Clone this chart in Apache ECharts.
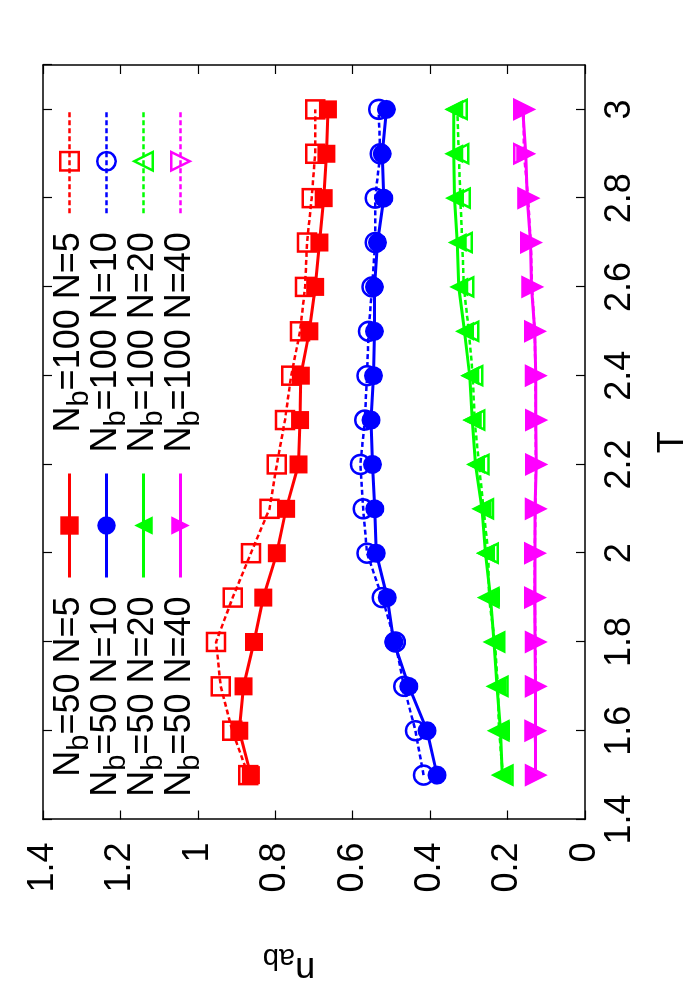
<!DOCTYPE html>
<html>
<head>
<meta charset="utf-8">
<script src="https://cdn.jsdelivr.net/npm/echarts@6/dist/echarts.min.js"></script>
<style>
  html, body { margin: 0; padding: 0; background: #fff; }
  #wrap { position: relative; width: 700px; height: 1000px; overflow: hidden; background: #fff; }
  #chart { position: absolute; left: 0; top: 0; width: 1000px; height: 700px;
           transform-origin: 0 0; transform: translateY(1000px) rotate(-90deg); }
</style>
</head>
<body>
<div id="wrap"><div id="chart"></div></div>
<script>
// ---- data ----
const T = [1.5, 1.6, 1.7, 1.8, 1.9, 2.0, 2.1, 2.2, 2.3, 2.4, 2.5, 2.6, 2.7, 2.8, 2.9, 3.0];

const nb50_N5   = [0.863, 0.893, 0.882, 0.855, 0.831, 0.796, 0.772, 0.740, 0.736, 0.734, 0.712, 0.697, 0.686, 0.675, 0.668, 0.664];
const nb50_N10  = [0.382, 0.408, 0.455, 0.494, 0.511, 0.539, 0.543, 0.549, 0.553, 0.546, 0.544, 0.544, 0.536, 0.520, 0.524, 0.513];
const nb50_N20  = [0.214, 0.218, 0.227, 0.235, 0.244, 0.257, 0.266, 0.283, 0.291, 0.298, 0.311, 0.326, 0.330, 0.337, 0.339, 0.339];
const nb50_N40  = [0.128, 0.128, 0.128, 0.129, 0.130, 0.129, 0.129, 0.126, 0.127, 0.127, 0.130, 0.138, 0.141, 0.149, 0.153, 0.161];

const nb100_N5  = [0.870, 0.911, 0.941, 0.953, 0.910, 0.863, 0.815, 0.796, 0.775, 0.759, 0.736, 0.723, 0.718, 0.706, 0.697, 0.697];
const nb100_N10 = [0.417, 0.438, 0.468, 0.490, 0.524, 0.563, 0.573, 0.580, 0.569, 0.563, 0.559, 0.550, 0.542, 0.542, 0.529, 0.533];
const nb100_N20 = [0.212, 0.222, 0.225, 0.233, 0.248, 0.250, 0.262, 0.274, 0.285, 0.290, 0.300, 0.313, 0.317, 0.322, 0.326, 0.330];
const nb100_N40 = [0.128, 0.129, 0.128, 0.128, 0.130, 0.130, 0.128, 0.127, 0.127, 0.128, 0.130, 0.137, 0.140, 0.147, 0.158, 0.158];

const namesA = ['Nb=50 N=5', 'Nb=50 N=10', 'Nb=50 N=20', 'Nb=50 N=40'];
const namesB = ['Nb=100 N=5', 'Nb=100 N=10', 'Nb=100 N=20', 'Nb=100 N=40'];

const xLabel = 'T';
const yLabelMain = 'n';
const yLabelSub = 'ab';

// ---- styling ----
const FONT = 'Liberation Sans, Arial, Helvetica, sans-serif';
const FS = 36;

function mk(name, vals, color, symbol, filled, dashed, rot) {
  return {
    name: name,
    type: 'line',
    data: T.map((t, i) => [t, vals[i]]),
    symbol: symbol,
    symbolSize: symbol === 'rect' ? 18 : (symbol === 'circle' ? 19 : 19),
    symbolRotate: rot || 0,
    showAllSymbol: true,
    lineStyle: { color: color, width: dashed ? 2.5 : 3, type: dashed ? [5, 3] : 'solid' },
    itemStyle: filled
      ? { color: color, borderWidth: 0 }
      : { color: 'rgba(255,255,255,0)', borderColor: color, borderWidth: 2.5 },
    emphasis: { disabled: true },
    z: dashed ? 3 : 2
  };
}

const series = [
  mk(namesA[0], nb50_N5,  '#ff0000', 'rect',     true,  false),
  mk(namesA[1], nb50_N10, '#0000ff', 'circle',   true,  false),
  mk(namesA[2], nb50_N20, '#00ff00', 'triangle', true,  false),
  mk(namesA[3], nb50_N40, '#ff00ff', 'triangle', true,  false, 180),
  mk(namesB[0], nb100_N5,  '#ff0000', 'rect',     false, true),
  mk(namesB[1], nb100_N10, '#0000ff', 'circle',   false, true),
  mk(namesB[2], nb100_N20, '#00ff00', 'triangle', false, true),
  mk(namesB[3], nb100_N40, '#ff00ff', 'triangle', false, true, 180)
];

const rich = {
  m: { fontSize: FS, lineHeight: 36, fontFamily: FONT, color: '#000' },
  s: { fontSize: 29, lineHeight: 36, fontFamily: FONT, color: '#000', padding: [20, 0, 0, 0] },
  e: { fontSize: FS, lineHeight: 36, fontFamily: FONT, color: '#000', padding: [0, 14, 0, 0] }
};
const richName = {
  m: { fontSize: FS, lineHeight: 36, fontFamily: FONT, color: '#000' },
  s: { fontSize: 29, lineHeight: 36, fontFamily: FONT, color: '#000', padding: [20, 0, 0, 0] },
  p: { fontSize: FS, lineHeight: 36, fontFamily: FONT, color: '#000', width: 50 }
};
function legendFmt(name) {
  // name like 'Nb=50 N=5' -> N_b=50 N=5
  return '{m|N}{s|b}{e|' + name.slice(2) + '}';
}
function mkLegend(names, right) {
  return {
    data: names,
    orient: 'vertical',
    align: 'right',
    right: right,
    top: 45,
    padding: 0,
    itemGap: -12,
    itemWidth: 104,
    itemHeight: 23,
    selectedMode: false,
    formatter: legendFmt,
    textStyle: { fontSize: FS, fontFamily: FONT, color: '#000', rich: rich },
    lineStyle: { width: 'inherit', type: 'inherit' },
    itemStyle: { borderWidth: 'inherit' },
    symbolRotate: 'inherit'
  };
}

const axisCommon = {
  axisLine: { show: true, onZero: false, lineStyle: { color: '#000', width: 1.5 } },
  axisTick: { show: true, inside: true, length: 9, lineStyle: { color: '#000', width: 1.2 } },
  splitLine: { show: false }
};

const option = {
  animation: false,
  backgroundColor: '#fff',
  grid: { left: 178, right: 65, top: 43, bottom: 115, containLabel: false },
  legend: [ mkLegend(namesA, 472), mkLegend(namesB, 108) ],
  xAxis: [
    Object.assign({
      type: 'value', position: 'bottom', min: 1.4, max: 3.1, interval: 0.2,
      axisLabel: { fontSize: FS, fontFamily: FONT, color: '#000', margin: 17, showMaxLabel: false },
      name: xLabel, nameLocation: 'middle', nameGap: 70,
      nameTextStyle: { fontSize: FS, fontFamily: FONT, color: '#000' }
    }, axisCommon),
    Object.assign({
      type: 'value', position: 'top', min: 1.4, max: 3.1, interval: 0.2,
      axisLabel: { show: false }
    }, axisCommon)
  ],
  yAxis: [
    Object.assign({
      type: 'value', position: 'left', min: 0, max: 1.4, interval: 0.2,
      axisLabel: { fontSize: FS, fontFamily: FONT, color: '#000', margin: 23 },
      name: '{p|}{m|' + yLabelMain + '}{s|' + yLabelSub + '}',
      nameLocation: 'middle', nameRotate: 90, nameGap: 130,
      nameTextStyle: { fontSize: FS, fontFamily: FONT, color: '#000', rich: richName }
    }, axisCommon),
    Object.assign({
      type: 'value', position: 'right', min: 0, max: 1.4, interval: 0.2,
      axisLabel: { show: false }
    }, axisCommon)
  ],
  series: series
};

const chart = echarts.init(document.getElementById('chart'), null, { renderer: 'canvas', width: 1000, height: 700 });
chart.setOption(option);
</script>
</body>
</html>
